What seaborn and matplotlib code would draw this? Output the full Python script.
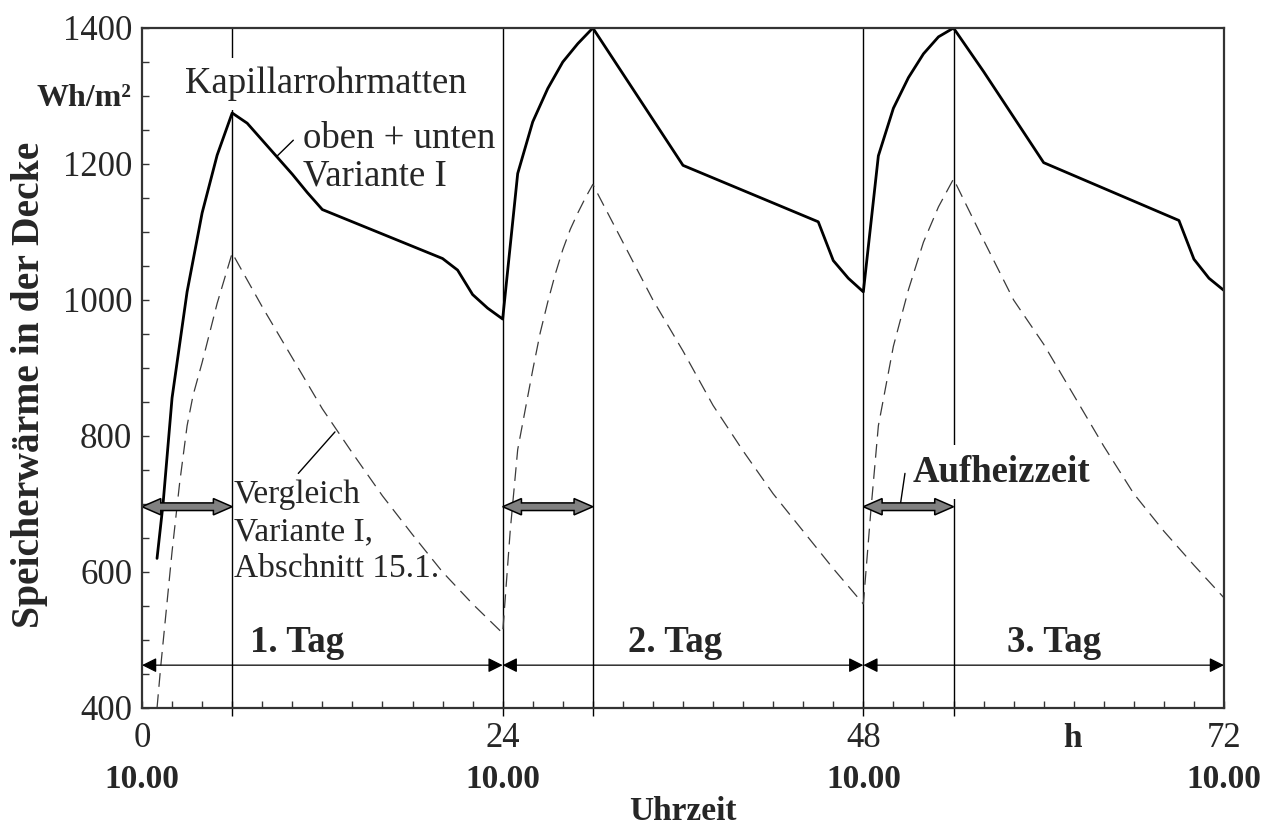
import numpy as np
import pandas as pd
import matplotlib
matplotlib.use("Agg")
import matplotlib.pyplot as plt
from matplotlib.patches import Polygon
from matplotlib.ticker import MultipleLocator
import seaborn as sns

# Storage heat in the ceiling, capillary mats top + bottom (variant I)
hours_mats = [1, 1.4, 2, 3, 4, 5, 6, 7, 8, 9, 10, 11, 12, 20, 21, 22, 23, 24,
              25, 26, 27, 28, 29, 30, 36, 45, 46, 47, 48,
              49, 50, 51, 52, 53, 54, 56, 60, 69, 70, 71, 72]
heat_mats = [620, 700, 856, 1012, 1128, 1213, 1275, 1260, 1235, 1210, 1185, 1158, 1133, 1061, 1044, 1008, 988, 972,
             1186, 1262, 1311, 1350, 1377, 1400, 1198, 1115, 1058, 1032, 1012,
             1212, 1282, 1327, 1362, 1387, 1400, 1336, 1202, 1117, 1060, 1032, 1014]

# Comparison: variant I, section 15.1
hours_ref = [1, 1.25, 2, 2.5, 3, 3.4, 4, 5, 6, 8, 10, 12, 14, 16, 18, 20, 22, 24,
             24.5, 25, 26, 26.5, 27, 27.5, 28, 28.5, 29, 29.5, 30, 32, 34, 36, 38, 40, 42, 44, 46, 48,
             48.5, 49, 50, 51, 52, 53, 54, 56, 58, 60, 62, 64, 66, 68, 70, 72]
heat_ref = [400, 462, 630, 730, 815, 860, 908, 995, 1069, 990, 915, 840, 775, 712, 655, 600, 553, 510,
            660, 780, 897, 952, 997, 1038, 1074, 1104, 1128, 1150, 1170, 1085, 1000, 925, 845, 778, 715, 660, 605, 553,
            690, 815, 932, 1015, 1085, 1137, 1178, 1088, 1000, 935, 860, 785, 715, 660, 610, 562]

day_starts = [0, 24, 48]
day_length = 24
heating_length = 6
day_labels = ["1. Tag", "2. Tag", "3. Tag"]
day_label_x = [10.3, 35.5, 60.7]
x_major = [0, 24, 48, 72]
x_major_labels = ["0", "24", "48", "72"]
clock_labels = ["10.00", "10.00", "10.00", "10.00"]

sns.set_style("ticks")
plt.rcParams["font.family"] = ["Liberation Serif", "DejaVu Serif"]

fig = plt.figure(figsize=(12.72, 8.25), dpi=100)
ax = fig.add_axes([142 / 1272, 1 - 708 / 825, (1224 - 142) / 1272, (708 - 28) / 825])

df_mats = pd.DataFrame({"Stunde": hours_mats, "Wärme": heat_mats})
df_ref = pd.DataFrame({"Stunde": hours_ref, "Wärme": heat_ref})

sns.lineplot(data=df_ref, x="Stunde", y="Wärme", ax=ax, color="#3a3a3a", lw=0.9,
             linestyle=(0, (11, 6)), estimator=None, sort=False, zorder=2)
sns.lineplot(data=df_mats, x="Stunde", y="Wärme", ax=ax, color="black", lw=2.0,
             estimator=None, sort=False, zorder=6)

ax.set_xlim(0, 72)
ax.set_ylim(400, 1400)

# Day boundaries and end of each heating period
vlines_x = sorted(set([d for d in day_starts if d > 0] + [d + heating_length for d in day_starts]))
ax.vlines(vlines_x, 388, 1400, color="black", lw=1.0, zorder=1, clip_on=False)

# Day dimension arrows
arrow_y = 463
for d0, lab, lx in zip(day_starts, day_labels, day_label_x):
    ax.annotate("", xy=(d0 + day_length, arrow_y), xytext=(d0, arrow_y),
                arrowprops=dict(arrowstyle="<|-|>", color="black", lw=0.9,
                                mutation_scale=22, shrinkA=0, shrinkB=0),
                zorder=5)
    ax.text(lx, 483, lab, ha="center", va="baseline", fontsize=26.5,
            fontweight="bold", zorder=5)


def fat_double_arrow(axis, x0, x1, y, shaft=5.6, head=12, head_len=1.25):
    verts = [(x0, y), (x0 + head_len, y + head), (x0 + head_len, y + shaft),
             (x1 - head_len, y + shaft), (x1 - head_len, y + head), (x1, y),
             (x1 - head_len, y - head), (x1 - head_len, y - shaft),
             (x0 + head_len, y - shaft), (x0 + head_len, y - head)]
    axis.add_patch(Polygon(verts, closed=True, fc="#808080", ec="black",
                           lw=1.1, zorder=7))


# Heating periods
for d0 in day_starts:
    fat_double_arrow(ax, d0, d0 + heating_length, 696)

# Annotations
white_box = dict(boxstyle="square,pad=0.25", fc="white", ec="none")
ax.text(2.86, 1304, "Kapillarrohrmatten", fontsize=26.5, ha="left",
        va="baseline", bbox=white_box, zorder=3)
ax.text(10.7, 1223, "oben + unten", fontsize=26.5, ha="left", va="baseline", zorder=3)
ax.text(10.7, 1169, "Variante I", fontsize=26.5, ha="left", va="baseline", zorder=3)
ax.plot([8.96, 10.07], [1211, 1235], color="black", lw=1.0, zorder=5)

ax.text(6.1, 701, "Vergleich", fontsize=24, ha="left", va="baseline", zorder=3)
ax.text(6.1, 646, "Variante I,", fontsize=24, ha="left", va="baseline", zorder=3)
ax.text(6.1, 593, "Abschnitt 15.1.", fontsize=24, ha="left", va="baseline", zorder=3)
ax.plot([10.4, 12.84], [745, 806], color="black", lw=1.0, zorder=5)

ax.text(51.3, 733, "Aufheizzeit", fontsize=26.5, fontweight="bold", ha="left",
        va="baseline", bbox=white_box, zorder=3)
ax.plot([50.43, 50.77], [694, 745], color="black", lw=1.0, zorder=5)

# Axes styling
for sp in ax.spines.values():
    sp.set_visible(True)
    sp.set_color("#333333")
    sp.set_linewidth(1.6)
    sp.set_zorder(8)

ax.set_xticks(x_major)
ax.set_xticklabels(x_major_labels)
ax.xaxis.set_minor_locator(MultipleLocator(2))
ax.yaxis.set_major_locator(MultipleLocator(200))
ax.yaxis.set_minor_locator(MultipleLocator(50))
ax.tick_params(axis="both", which="both", direction="in", length=5, width=1.0,
               color="#333333", top=False, right=False)
ax.tick_params(axis="y", which="major", labelsize=25, pad=7)
ax.tick_params(axis="x", which="major", labelsize=25, pad=10)
ax.set_xlabel("")
ax.set_ylabel("")

trans = ax.get_xaxis_transform()
for xv, lab in zip(x_major, clock_labels):
    ax.text(xv, -0.118, lab, transform=trans, ha="center", va="baseline",
            fontsize=24, fontweight="bold", clip_on=False)
ax.text(61.9, -0.057, "h", transform=trans, ha="center", va="baseline",
        fontsize=24, fontweight="bold", clip_on=False)
ax.text(36, -0.165, "Uhrzeit", transform=trans, ha="center", va="baseline",
        fontsize=24, fontweight="bold", clip_on=False)

fig.text(0.023, 0.533, "Speicherwärme in der Decke", rotation=90, ha="center",
         va="center", fontsize=28.5, fontweight="bold")
fig.text(0.066, 0.8715, "Wh/m²", ha="center", va="baseline", fontsize=23,
         fontweight="bold")

fig.savefig("out.png", dpi=100, facecolor="white")
